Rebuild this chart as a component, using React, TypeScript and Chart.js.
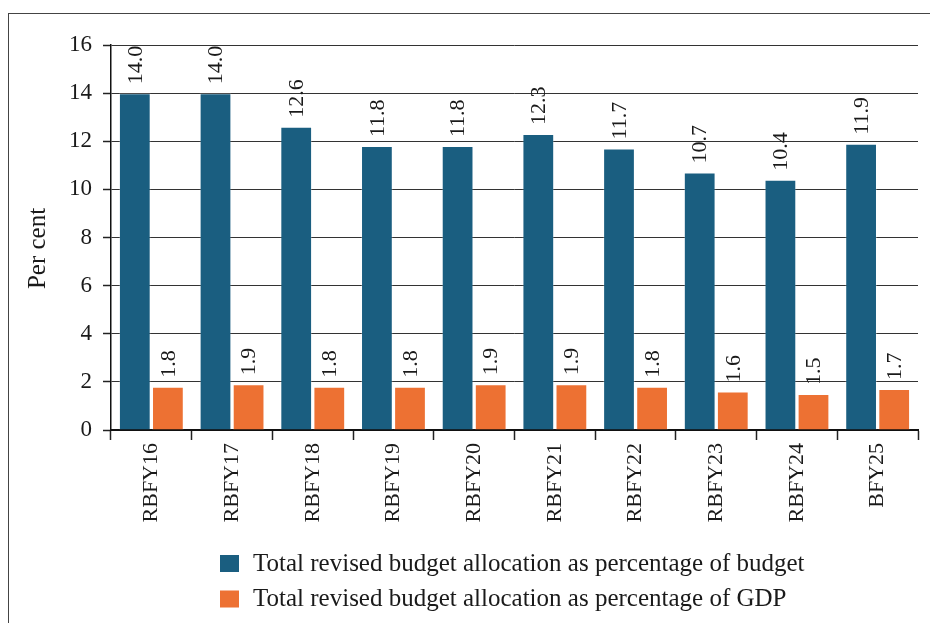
import React, { useEffect, useRef } from "react";
import { Chart, registerables } from "chart.js";

Chart.register(...registerables);

const categories = ["RBFY16", "RBFY17", "RBFY18", "RBFY19", "RBFY20", "RBFY21", "RBFY22", "RBFY23", "RBFY24", "BFY25"];
const pctOfBudget = [14.0, 14.0, 12.6, 11.8, 11.8, 12.3, 11.7, 10.7, 10.4, 11.9];
const pctOfGdp = [1.8, 1.9, 1.8, 1.8, 1.9, 1.9, 1.8, 1.6, 1.5, 1.7];
const seriesLabels = [
  "Total revised budget allocation as percentage of budget",
  "Total revised budget allocation as percentage of GDP",
];
const seriesColors = ["#1A5E80", "#ED7133"];
const yTitle = "Per cent";

const FONT = "'Liberation Serif', 'Times New Roman', serif";
const TEXT = "#1a1a1a";

const valueLabels = {
  id: "valueLabels",
  afterDatasetsDraw(chart: any) {
    const ctx = chart.ctx;
    ctx.save();
    ctx.font = `22px ${FONT}`;
    ctx.fillStyle = TEXT;
    ctx.textAlign = "left";
    ctx.textBaseline = "middle";
    chart.data.datasets.forEach((ds: any, di: number) => {
      const meta = chart.getDatasetMeta(di);
      meta.data.forEach((el: any, i: number) => {
        const v = ds.data[i];
        ctx.save();
        ctx.translate(el.x, el.y - 9);
        ctx.rotate(-Math.PI / 2);
        ctx.fillText(Number(v).toFixed(1), 0, 1);
        ctx.restore();
      });
    });
    ctx.restore();
  },
};

const yAxisTitle = {
  id: "yAxisTitle",
  afterDraw(chart: any) {
    const ctx = chart.ctx;
    const area = chart.chartArea;
    ctx.save();
    ctx.font = `25px ${FONT}`;
    ctx.fillStyle = TEXT;
    ctx.textAlign = "center";
    ctx.textBaseline = "middle";
    ctx.translate(area.left - 73, (area.top + area.bottom) / 2 + 11);
    ctx.rotate(-Math.PI / 2);
    ctx.fillText(yTitle, 0, 0);
    ctx.restore();
  },
};

const bottomLegend = {
  id: "bottomLegend",
  afterDraw(chart: any) {
    const ctx = chart.ctx;
    const area = chart.chartArea;
    ctx.save();
    ctx.font = `25px ${FONT}`;
    ctx.textBaseline = "middle";
    ctx.textAlign = "left";
    chart.data.datasets.forEach((ds: any, i: number) => {
      const x = area.left + 109;
      const yTop = area.bottom + 125 + i * 35.5;
      ctx.fillStyle = ds.backgroundColor;
      ctx.fillRect(x, yTop, 19, 17);
      ctx.fillStyle = TEXT;
      ctx.fillText(ds.label, x + 33, yTop + 9);
    });
    ctx.restore();
  },
};

export default function App() {
  const ref = useRef<HTMLCanvasElement>(null);

  useEffect(() => {
    if (!ref.current) return;
    const chart = new Chart(ref.current, {
      type: "bar",
      data: {
        labels: categories,
        datasets: [
          {
            label: seriesLabels[0],
            data: pctOfBudget,
            backgroundColor: seriesColors[0],
            borderColor: "rgba(255,255,255,0.25)",
            borderWidth: 1,
            categoryPercentage: 0.82,
            barPercentage: 0.96,
          },
          {
            label: seriesLabels[1],
            data: pctOfGdp,
            backgroundColor: seriesColors[1],
            borderColor: "rgba(255,255,255,0.4)",
            borderWidth: 1,
            categoryPercentage: 0.82,
            barPercentage: 0.96,
          },
        ],
      },
      options: {
        responsive: false,
        animation: false,
        devicePixelRatio: 1,
        layout: { padding: { left: 9, top: 45, right: 12, bottom: 83 } },
        plugins: {
          legend: { display: false },
          tooltip: { enabled: false },
          title: { display: false },
        },
        scales: {
          x: {
            grid: {
              display: true,
              drawOnChartArea: false,
              drawTicks: true,
              tickLength: 10,
              tickWidth: 1.5,
              tickColor: "#222",
              offset: true,
            },
            border: { display: true, color: "#111", width: 2 },
            ticks: {
              color: TEXT,
              font: { family: FONT, size: 22 },
              minRotation: 90,
              maxRotation: 90,
              padding: 3,
              autoSkip: false,
            },
            afterFit(scale: any) {
              scale.height = 110;
            },
          },
          y: {
            min: 0,
            max: 16,
            ticks: {
              stepSize: 2,
              color: TEXT,
              font: { family: FONT, size: 23 },
              padding: 11,
            },
            grid: {
              color: "#333",
              lineWidth: 1,
              tickLength: 8,
              tickColor: "#222",
              tickWidth: 1.5,
            },
            border: { display: true, color: "#111", width: 1.5 },
            title: { display: false },
            afterFit(scale: any) {
              scale.width = 102;
            },
          },
        },
      },
      plugins: [valueLabels, yAxisTitle, bottomLegend],
    });
    return () => chart.destroy();
  }, []);

  return (
    <div style={{ position: "fixed", left: 0, top: 0, width: 930, height: 623, overflow: "hidden", background: "#fff" }}>
      <div
        style={{
          position: "absolute",
          left: 8,
          top: 13,
          width: 1000,
          height: 1000,
          border: "1.5px solid #444",
          boxSizing: "border-box",
        }}
      />
      <canvas ref={ref} width={930} height={623} style={{ position: "absolute", left: 0, top: 0, width: 930, height: 623 }} />
    </div>
  );
}
